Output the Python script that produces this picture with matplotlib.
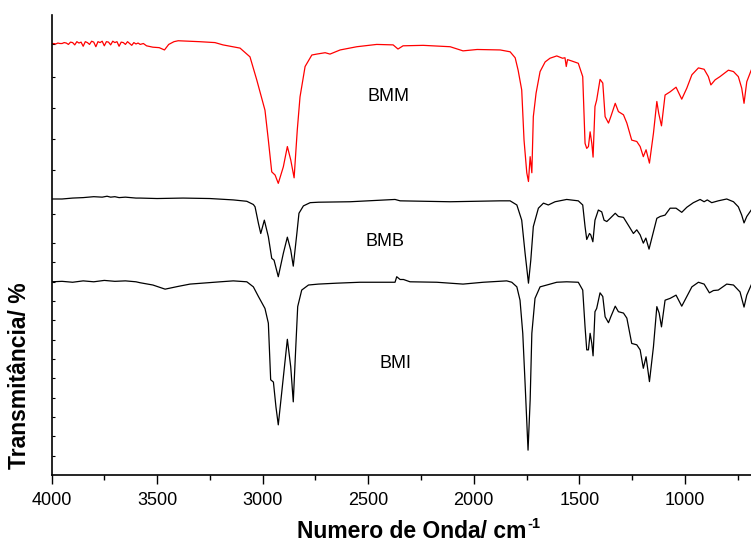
import numpy as np
import matplotlib
matplotlib.use("Agg")
import matplotlib.pyplot as plt
from matplotlib.ticker import MultipleLocator

plt.rcParams['font.family'] = ['Liberation Sans', 'DejaVu Sans']

# BMM (red, top trace): wavenumber (cm-1) / transmittance (a.u.)
bmm_wn = [4000, 3990, 3980, 3970, 3960, 3950, 3940, 3930, 3920, 3910, 3900, 3890,
          3880, 3870, 3860, 3850, 3840, 3830, 3820, 3810, 3800, 3790, 3780, 3770,
          3760, 3750, 3740, 3730, 3720, 3710, 3700, 3690, 3680, 3670, 3660, 3650,
          3640, 3630, 3620, 3610, 3600, 3590, 3580, 3565, 3550, 3520, 3490, 3465,
          3445, 3420, 3400,
          3300, 3226, 3188, 3107, 3060, 3028, 2989, 2973, 2957, 2941, 2926, 2902,
          2883, 2867, 2851, 2836, 2823, 2799, 2767, 2744, 2704, 2681, 2633, 2554,
          2460, 2382, 2359, 2335, 2240, 2112, 2051, 1984, 1875, 1828, 1804, 1790,
          1773, 1762, 1749, 1741, 1733, 1725, 1718, 1705, 1686, 1662, 1639, 1607,
          1580, 1568, 1562, 1556, 1536, 1505, 1484, 1473, 1465, 1457, 1449, 1441,
          1435, 1426, 1418, 1402, 1389, 1378, 1362, 1351, 1330, 1315, 1291, 1275,
          1252, 1228, 1212, 1197, 1184, 1168, 1149, 1133, 1124, 1111, 1094, 1070,
          1042, 1015, 991, 967, 936, 909, 889, 877, 857, 834, 794, 770, 747, 731,
          720, 707, 686]
bmm_t = [93.7, 93.8, 93.7, 93.9, 93.8, 93.8, 94.0, 93.9, 93.6, 94.1, 94.0, 93.5,
         94.2, 93.9, 94.1, 93.2, 94.2, 94.0, 93.6, 94.3, 94.1, 93.1, 94.2, 94.0,
         94.3, 93.3, 94.2, 94.1, 93.5, 94.3, 94.0, 94.2, 93.2, 94.1, 94.0, 93.6,
         94.2, 93.8, 93.4, 94.0, 93.7, 93.9, 93.6, 93.8, 93.3, 93.0, 92.9, 92.4,
         93.6, 94.2, 94.4,
         94.2, 94.0, 93.5, 92.8, 90.9, 85.9, 79.3, 72.8, 65.9, 65.2, 63.4, 67.0,
         71.4, 68.5, 64.6, 75.0, 82.2, 88.8, 91.3, 91.5, 91.8, 91.5, 92.4, 93.1,
         93.6, 93.5, 92.6, 93.3, 93.4, 93.1, 92.2, 92.5, 92.4, 92.0, 90.7, 88.0,
         83.7, 72.8, 65.7, 63.8, 69.2, 65.7, 77.9, 83.0, 87.7, 89.8, 90.6, 91.1,
         90.6, 90.7, 88.8, 90.3, 90.0, 89.5, 86.6, 72.1, 71.0, 71.4, 74.6, 72.1,
         69.1, 80.1, 81.5, 86.0, 85.2, 77.9, 76.5, 77.9, 80.8, 79.0, 78.3, 76.5,
         72.8, 72.5, 71.4, 69.2, 70.7, 67.8, 74.3, 81.2, 78.6, 75.9, 82.6, 83.3,
         84.3, 81.7, 84.1, 87.0, 88.5, 88.2, 86.6, 84.8, 85.9, 86.6, 88.0, 87.7,
         86.6, 84.1, 80.8, 85.5, 88.0]

# BMB (black, middle trace)
bmb_wn = [4000, 3950, 3900, 3850, 3800, 3760, 3737, 3720, 3700, 3680, 3650, 3600,
          3581, 3500, 3377, 3250, 3139, 3075, 3044, 3036, 3020, 3009, 2992, 2973,
          2957, 2946, 2926, 2902, 2883, 2867, 2855, 2838, 2828, 2807, 2775, 2736,
          2586, 2373, 2349, 2112, 1875, 1828, 1796, 1773, 1757, 1741, 1730, 1718,
          1694, 1670, 1647, 1615, 1560, 1505, 1484, 1473, 1465, 1452, 1446, 1436,
          1426, 1410, 1394, 1383, 1370, 1354, 1330, 1315, 1291, 1268, 1244, 1228,
          1212, 1197, 1185, 1170, 1149, 1133, 1117, 1094, 1070, 1042, 1015, 991,
          960, 928, 909, 894, 873, 842, 802, 770, 747, 731, 720, 707, 686]
bmb_t = [60.0, 60.0, 60.2, 60.3, 60.5, 60.4, 60.6, 60.4, 60.5, 60.3, 60.4, 60.2,
         60.2, 60.1, 60.2, 60.1, 59.8, 59.5, 58.8, 58.3, 54.7, 52.5, 55.4, 51.8,
         47.1, 46.7, 43.1, 48.2, 51.7, 48.9, 45.4, 52.5, 56.9, 58.5, 59.2, 59.3,
         59.4, 59.9, 59.6, 59.4, 59.6, 59.6, 58.7, 55.4, 48.2, 41.7, 46.7, 54.0,
         58.0, 59.1, 58.7, 59.4, 59.9, 59.6, 58.7, 54.0, 51.2, 52.5, 52.2, 50.7,
         55.4, 57.6, 57.2, 55.4, 55.1, 55.8, 56.9, 56.2, 56.0, 54.3, 52.5, 53.3,
         52.2, 50.4, 51.5, 49.1, 52.9, 55.8, 56.2, 56.5, 58.0, 58.0, 57.1, 58.2,
         59.2, 59.9, 59.4, 59.8, 59.2, 59.6, 60.0, 59.4, 58.3, 56.5, 54.8, 56.2, 57.6]

# BMI (black, bottom trace)
bmi_wn = [4000, 3950, 3900, 3850, 3800, 3750, 3700, 3650, 3600, 3581, 3520, 3462,
          3400, 3344, 3200, 3139, 3075, 3044, 3020, 2989, 2973, 2962, 2949, 2937,
          2926, 2910, 2883, 2867, 2855, 2843, 2834, 2815, 2783, 2736, 2649, 2539,
          2373, 2365, 2349, 2333, 2302, 2175, 2051, 1955, 1844, 1820, 1796, 1781,
          1768, 1757, 1743, 1733, 1725, 1710, 1686, 1654, 1607, 1560, 1505, 1484,
          1473, 1465, 1457, 1449, 1441, 1435, 1426, 1418, 1402, 1389, 1378, 1362,
          1351, 1330, 1315, 1291, 1275, 1252, 1228, 1212, 1197, 1184, 1168, 1149,
          1133, 1122, 1111, 1094, 1070, 1042, 1015, 991, 967, 936, 909, 884, 865,
          842, 802, 770, 739, 720, 707, 686]
bmi_t = [42.0, 42.1, 41.9, 42.2, 42.0, 42.3, 42.1, 42.2, 42.0, 41.8, 41.3, 40.4,
         41.0, 41.5, 42.0, 42.2, 42.0, 40.9, 38.8, 36.2, 33.0, 20.7, 20.2, 14.8,
         10.9, 17.8, 29.5, 23.5, 15.9, 27.9, 36.6, 40.2, 41.3, 41.5, 41.7, 41.9,
         41.9, 43.1, 42.5, 42.5, 42.0, 41.9, 41.5, 41.9, 42.2, 41.9, 40.9, 38.0,
         30.8, 19.9, 5.4, 16.3, 30.8, 38.4, 40.9, 41.3, 41.9, 42.0, 41.9, 40.2,
         32.2, 27.2, 27.2, 30.8, 28.6, 25.9, 35.5, 36.2, 39.6, 38.8, 34.4, 33.1,
         34.4, 36.7, 35.5, 35.2, 34.1, 28.6, 28.3, 27.2, 23.2, 25.7, 20.3, 27.9,
         36.6, 35.2, 32.2, 38.0, 38.4, 39.1, 36.7, 38.8, 40.9, 41.9, 41.5, 39.6, 40.1,
         40.2, 41.5, 41.3, 39.8, 36.5, 39.1, 41.3]

labels = ["BMM", "BMB", "BMI"]
label_pos = [(2406, 82.2), (2420, 50.7), (2370, 24.3)]

ytick_pos = [4.2, 8.4, 12.6, 16.8, 21.0, 25.2, 29.4, 33.6, 37.8, 42.0, 46.2, 50.4,
             56.8, 66.2, 73.0, 79.7, 86.5, 93.8]

fig = plt.figure(figsize=(7.51, 5.49), dpi=100)
ax = fig.add_axes([0.0686, 0.1348, 0.9314, 0.8379])

ax.plot(bmm_wn, bmm_t, color='red', lw=0.9)
ax.plot(bmb_wn, bmb_t, color='black', lw=0.9)
ax.plot(bmi_wn, bmi_t, color='black', lw=0.9)

for name, (xw, yt) in zip(labels, label_pos):
    ax.text(xw, yt, name, fontsize=13, ha='center', va='center')

ax.set_xlim(4000, 687)
ax.set_ylim(0, 100)
ax.xaxis.set_major_locator(MultipleLocator(500))
ax.xaxis.set_minor_locator(MultipleLocator(250))
ax.set_yticks(ytick_pos)
ax.set_yticklabels([])
ax.tick_params(axis='x', which='major', direction='out', length=6.5, width=1,
               labelsize=13, pad=6)
ax.tick_params(axis='x', which='minor', direction='out', length=3.6, width=1)
ax.tick_params(axis='y', which='major', direction='in', length=2, width=0.8)

ax.spines['top'].set_visible(False)
ax.spines['right'].set_visible(False)
ax.spines['left'].set_linewidth(1.2)
ax.spines['bottom'].set_linewidth(1.2)

ax.set_xlabel("Numero de Onda/ cm", fontsize=16.5, fontweight='bold')
ax.xaxis.set_label_coords(0.515, -0.098)
ax.set_ylabel(u"Transmitância/ %", fontsize=16.5, fontweight='bold')
ax.yaxis.set_label_coords(-0.03, 0.215)

# superscript of the unit, put just after the x label
fig.canvas.draw()
bb = ax.xaxis.label.get_window_extent()
fig.text((bb.x1 + 1) / fig.bbox.width, (bb.y1 + 3) / fig.bbox.height, "-1",
         fontsize=10.5, fontweight='bold', ha='left', va='top')

fig.savefig("out.png", dpi=100)
